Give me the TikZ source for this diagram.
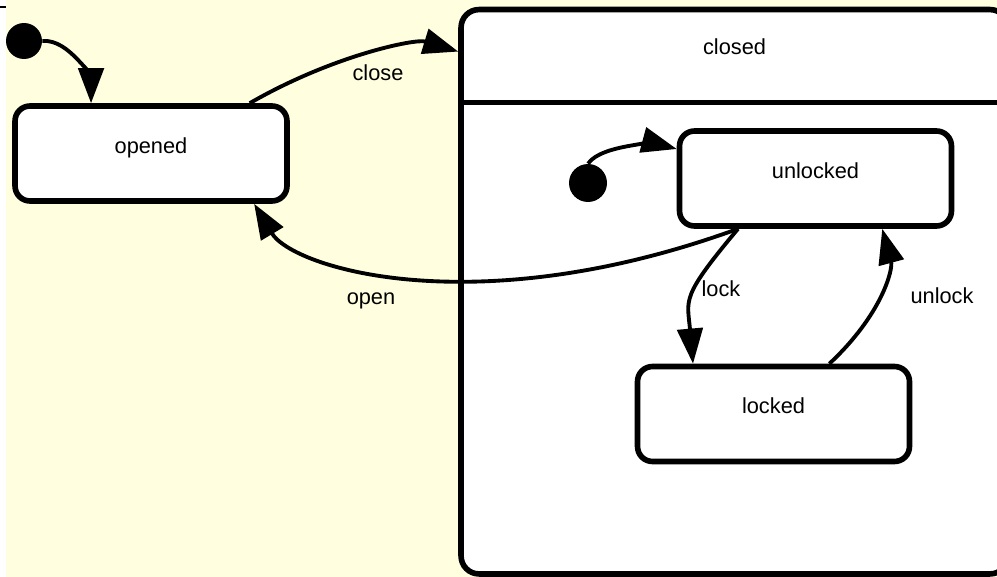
\documentclass[tikz,border=0pt]{standalone}
\usepackage{fontspec}
\setmainfont{Liberation Sans}
\usepackage{tikz}
\usetikzlibrary{arrows.meta,positioning}
\definecolor{bgyellow}{RGB}{255,255,224}

\begin{document}
\begin{tikzpicture}[x=0.02cm,y=0.02cm,
  every node/.style={font=\fontsize{12.4}{14}\selectfont},
  state/.style={draw,line width=3.2pt,rounded corners=0.3cm,fill=white,minimum width=5.44cm,minimum height=1.9cm,text height=6pt,text depth=6pt,inner sep=0pt},
  initdot/.style={circle,fill=black,inner sep=0pt},
  trans/.style={line width=2.2pt,-{Triangle[length=20pt,width=14.5pt]}},
  lbl/.style={anchor=base,inner sep=0pt}]
				\useasboundingbox (0,0) rectangle (997,-577);
				\fill[white] (0,0) rectangle (997,-577);
				\fill[bgyellow] (6,0) rectangle (997,-577);
				\draw[line width=0.6pt] (0,-7) -- (6,-7);
				\clip (0,0) rectangle (997,-577);
				\node[draw,line width=3.2pt,rounded corners=0.36cm,fill=white,minimum width=10.94cm,minimum height=11.29cm,inner sep=0pt] (closed) at (734.5,-291.75) {};
				\draw[line width=3.2pt] (closed.west |- 0,-102.5) -- (closed.east |- 0,-102.5);
				\node[lbl] (closedname) at (734.5,-55) {closed};
				\node[state] (opened) at (151,-153.5) {opened};
				\node[state] (unlocked) at (815.5,-178.5) {unlocked};
				\node[state] (locked) at (773.5,-414) {locked};
				\node[initdot,minimum size=0.72cm] (init) at (24,-41) {};
				\node[initdot,minimum size=0.76cm] (subinit) at (588,-183) {};
				\draw[trans] (init.east) .. controls +(5:28) and +(90:21) .. (opened.140);
				\draw[trans] (opened.27) .. controls +(30:95) and +(163:45) .. (closed.139.8);
				\draw[trans] (unlocked.213) .. controls +(200:280) and +(-59:75) .. (opened.-26);
				\draw[trans] (subinit.north) .. controls +(55:25) and +(165:15) .. (unlocked.168);
				\draw[trans] (unlocked.213) .. controls +(230:90) and +(95:65) .. (locked.148);
				\draw[trans] (locked.42.5) .. controls +(43:72) and +(-75:42) .. (unlocked.-37.4);
				\node[lbl] (closelbl) at (378,-81) {close};
				\node[lbl] (openlbl) at (371,-305) {open};
				\node[lbl] (locklbl) at (721,-297) {lock};
				\node[lbl] (unlocklbl) at (942,-304) {unlock};
			\end{tikzpicture}
\end{document}
